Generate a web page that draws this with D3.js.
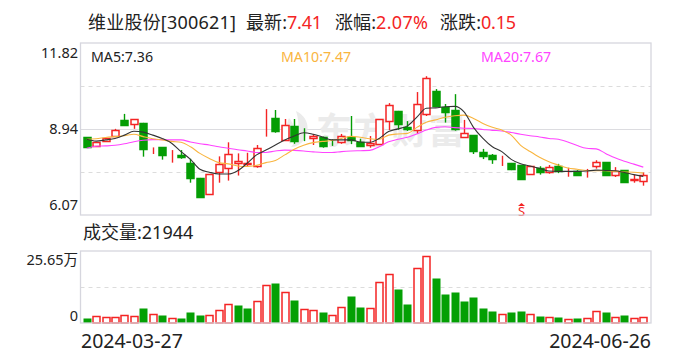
<!DOCTYPE html>
<html>
<head>
<meta charset="utf-8">
<script src="https://cdn.jsdelivr.net/npm/d3@7"></script>
<style>
  html, body { margin: 0; padding: 0; background: #fff; }
  svg { display: block; }
  text { font-family: "Noto Sans", "Noto Sans CJK SC", sans-serif; }
</style>
</head>
<body>
<div id="root"></div>
<script>
// Daily bars
const opens = [8.67,8.37,8.57,8.70,9.25,9.10,9.15,8.29,8.33,8.11,8.08,7.81,7.31,6.76,7.49,7.63,7.79,7.75,7.69,9.03,
  9.31,8.58,9.05,8.64,8.63,8.69,8.56,8.50,8.67,8.51,8.40,8.43,9.20,9.55,9.01,8.90,9.42,10.22,9.69,9.58,
  8.66,8.74,8.18,8.08,7.94,7.81,7.74,7.43,7.65,7.52,7.70,7.51,7.54,7.51,7.69,7.84,7.43,7.56,7.21,7.22]
const closes = [8.35,8.50,8.66,8.90,9.08,9.27,8.29,8.30,8.05,8.12,8.02,7.32,6.68,7.43,7.76,8.10,7.86,7.80,8.30,9.04,
  8.86,9.07,8.56,8.63,8.70,8.39,8.55,8.70,8.56,8.39,8.47,9.27,9.74,9.12,8.93,9.77,10.64,9.73,9.51,8.96,
  8.81,8.19,8.05,7.95,7.95,7.61,7.28,7.70,7.52,7.69,7.52,7.52,7.42,7.52,7.83,7.42,7.55,7.17,7.26,7.41]
const highs = [8.67,8.50,8.66,8.95,9.45,9.27,9.15,8.33,8.33,8.24,8.24,7.95,7.31,7.43,8.03,8.50,8.13,8.15,8.41,9.61,
  9.58,9.28,9.28,8.97,8.77,8.69,8.60,8.78,9.38,8.62,8.71,9.27,9.81,9.55,9.21,10.18,10.71,10.28,9.78,10.11,
  9.25,8.74,8.28,8.11,8.05,7.81,7.74,7.70,7.70,7.74,7.78,7.65,7.57,7.61,7.90,7.84,7.67,7.56,7.41,7.49]
const lows = [8.35,8.37,8.52,8.70,9.05,8.95,8.02,8.11,7.92,7.82,7.95,7.15,6.65,6.76,7.15,7.22,7.39,7.71,7.65,8.69,
  8.82,8.58,8.45,8.54,8.41,8.32,8.38,8.45,8.44,8.37,8.32,8.43,8.91,8.92,8.88,8.78,9.38,9.69,9.16,8.89,
  8.66,8.11,7.94,7.78,7.71,7.57,7.28,7.43,7.42,7.45,7.47,7.35,7.42,7.32,7.62,7.42,7.34,7.14,7.15,7.05]

const ma5 = [8.60,8.54,8.58,8.63,8.74,8.87,8.84,8.74,8.63,8.47,8.19,7.93,7.60,7.50,7.44,7.44,7.55,7.80,8.08,8.24,
  8.41,8.58,8.71,8.82,8.77,8.68,8.58,8.58,8.58,8.51,8.50,8.63,8.86,8.95,9.05,9.34,9.64,9.65,9.69,9.70,
  9.52,9.00,8.63,8.35,8.19,7.93,7.78,7.71,7.63,7.54,7.53,7.53,7.53,7.54,7.57,7.56,7.55,7.49,7.42,7.36]
const ma10 = [8.60,8.62,8.66,8.69,8.72,8.77,8.69,8.62,8.58,8.53,8.50,8.35,8.13,7.96,7.82,7.78,7.71,7.69,7.73,7.82,
  7.89,8.08,8.27,8.40,8.49,8.53,8.56,8.63,8.70,8.67,8.62,8.60,8.74,8.78,8.80,9.00,9.17,9.25,9.34,9.39,
  9.41,9.30,9.13,9.00,8.91,8.74,8.40,8.19,8.00,7.85,7.74,7.64,7.60,7.56,7.55,7.55,7.53,7.51,7.50,7.47]
const ma20 = [8.30,8.37,8.38,8.40,8.45,8.52,8.57,8.59,8.59,8.58,8.58,8.51,8.45,8.41,8.35,8.30,8.25,8.21,8.16,8.16,
  8.21,8.24,8.23,8.21,8.18,8.16,8.16,8.19,8.21,8.22,8.23,8.35,8.52,8.60,8.67,8.78,8.91,9.00,9.02,8.99,
  8.97,8.96,8.93,8.90,8.88,8.83,8.77,8.72,8.68,8.63,8.60,8.51,8.39,8.30,8.28,8.13,7.98,7.87,7.77,7.67]

// Volume in 万 shares, and whether its bar is drawn as an up bar
const volumes = [1.90,2.38,2.02,2.02,2.73,2.49,5.35,3.09,2.85,1.66,1.90,3.92,2.85,2.73,4.51,6.65,6.42,5.35,7.72,13.42,
  14.26,10.93,8.20,4.87,4.51,3.92,2.73,5.58,9.62,5.70,5.23,14.49,17.34,12.12,6.77,19.48,23.76,16.04,10.34,11.05,
  7.84,9.27,5.35,4.28,3.09,3.92,4.28,3.09,2.49,2.02,2.14,1.31,1.78,1.66,4.16,3.92,2.02,2.85,1.66,2.19]
const volumeUp = [0,1,1,1,1,1,0,1,0,1,0,0,0,1,1,1,0,0,1,1,
  0,1,0,1,1,0,1,1,0,0,1,1,1,0,0,1,1,0,0,0,
  0,0,0,0,1,0,0,1,0,1,0,1,0,1,1,0,1,0,1,1]

const priceTicks = [11.82, 8.94, 6.07]
const priceGrid = [10.38, 7.51]
const sellSignal = [46]
const dates = ['2024-03-27', '2024-06-26']

const width = 688
const height = 360
const red = '#f42424'
const green = '#049d04'
const box = { left: 80.5, right: 651, top: 43, bottom: 215, volTop: 251, volBottom: 323 }

const svg = d3.select('#root').append('svg')
  .attr('width', width)
  .attr('height', height)
  .attr('viewBox', `0 0 ${width} ${height}`)

const x = d3.scaleBand().domain(d3.range(closes.length)).range([82, 648])
const cx = i => Math.round(x(i) + x.bandwidth() / 2)
const y = d3.scaleLinear().domain([6.07, 11.82]).range([box.bottom, box.top])
const yVol = d3.scaleLinear().domain([0, 25.65]).range([box.volBottom, box.volTop])

// Grid
svg.append('line').attr('x1', box.left).attr('x2', box.right)
  .attr('y1', Math.round(y(8.94)) + 0.5).attr('y2', Math.round(y(8.94)) + 0.5)
  .attr('stroke', '#dcdce0')
svg.append('g').selectAll('line')
  .data(priceGrid)
  .enter()
  .append('line')
  .attr('x1', box.left).attr('x2', box.right)
  .attr('y1', d => Math.round(y(d)) + 0.5).attr('y2', d => Math.round(y(d)) + 0.5)
  .attr('stroke', '#dcdcdc').attr('stroke-dasharray', '4,4')
svg.append('line').attr('x1', box.left).attr('x2', box.right)
  .attr('y1', 287.5).attr('y2', 287.5)
  .attr('stroke', '#dcdcdc').attr('stroke-dasharray', '4,4')

// Watermark
const mark = svg.append('g').attr('fill', '#ebebeb')
mark.append('text').attr('x', 316).attr('y', 144)
  .attr('font-size', 36).attr('font-weight', 700).attr('letter-spacing', 1.5)
  .style('font-family', '"Noto Sans CJK SC"')
  .text('东方财富')
mark.append('path').attr('d', 'M296 111C306 116 311 126 305 138C302 144 296 147 291 147C298 140 301 126 296 111Z')
mark.append('path').attr('d', 'M289 118C295 124 296 134 290 144C286 138 285 126 289 118Z')

// Candles
const candles = svg.append('g').selectAll('g')
  .data(closes)
  .enter()
  .append('g')
  .attr('stroke', (d, i) => d >= opens[i] ? red : green)
candles.append('line')
  .attr('x1', (d, i) => cx(i) + 0.5).attr('x2', (d, i) => cx(i) + 0.5)
  .attr('y1', (d, i) => y(highs[i])).attr('y2', (d, i) => y(lows[i]))
  .attr('stroke-width', 1.4)
candles.append('rect')
  .attr('x', (d, i) => cx(i) - 3)
  .attr('width', 7)
  .attr('y', (d, i) => Math.round(y(Math.max(d, opens[i]))) + 0.5)
  .attr('height', (d, i) => Math.round(Math.abs(y(d) - y(opens[i]))))
  .attr('fill', (d, i) => d >= opens[i] ? '#fff' : green)
  .attr('stroke-width', 1.5)

// Moving averages
const line = d3.line()
  .x((d, i) => x(i) + x.bandwidth() / 2)
  .y(d => y(d))
  .curve(d3.curveMonotoneX)
const maLines = [[ma20, '#ff44ff'], [ma10, '#f9b53f'], [ma5, '#333333']]
svg.append('g').selectAll('path')
  .data(maLines)
  .enter()
  .append('path')
  .attr('d', d => line(d[0]))
  .attr('fill', 'none')
  .attr('stroke', d => d[1])
  .attr('stroke-width', 1.1)

// Sell marker
const signal = svg.append('g').selectAll('g')
  .data(sellSignal)
  .enter()
  .append('g')
  .attr('transform', d => `translate(${cx(d) + 0.5},0)`)
  .attr('fill', red)
signal.append('path').attr('d', 'M-3.5 206L0 203L3.5 206Z')
signal.append('text').attr('y', 215.5).attr('text-anchor', 'middle')
  .attr('font-size', 13).text('S')

// Volume
svg.append('g').selectAll('rect')
  .data(volumes)
  .enter()
  .append('rect')
  .attr('x', (d, i) => cx(i) - 3 - (volumeUp[i] ? 0 : 0.5))
  .attr('width', (d, i) => volumeUp[i] ? 7 : 8)
  .attr('y', d => Math.round(yVol(d)) + 0.5)
  .attr('height', d => yVol(0) - Math.round(yVol(d)) - 0.5)
  .attr('fill', (d, i) => volumeUp[i] ? '#fff' : '#04a004')
  .attr('stroke', (d, i) => volumeUp[i] ? red : 'none')
  .attr('stroke-width', 1.5)

// Frames
const frames = [[box.top, box.bottom], [box.volTop, box.volBottom]]
svg.append('g').selectAll('rect')
  .data(frames)
  .enter()
  .append('rect')
  .attr('x', box.left).attr('width', box.right - box.left)
  .attr('y', d => d[0]).attr('height', d => d[1] - d[0])
  .attr('fill', 'none').attr('stroke', '#d6d6de').attr('stroke-width', 1.3)

// Axis labels
svg.append('g').selectAll('text')
  .data(priceTicks)
  .enter()
  .append('text')
  .attr('x', 78)
  .attr('y', (d, i) => y(d) + [15, 5, -5][i])
  .attr('text-anchor', 'end').attr('font-size', 14.5).attr('fill', '#222')
  .text(d => d.toFixed(2))
svg.append('text').attr('x', 78).attr('y', 265).attr('text-anchor', 'end')
  .attr('font-size', 14.5).attr('fill', '#222').text('25.65万')
svg.append('text').attr('x', 78).attr('y', 321).attr('text-anchor', 'end')
  .attr('font-size', 14.5).attr('fill', '#222').text('0')
svg.append('text').attr('x', 81).attr('y', 348).attr('font-size', 19.5).attr('fill', '#222').text(dates[0])
svg.append('text').attr('x', 651).attr('y', 348).attr('text-anchor', 'end')
  .attr('font-size', 19.5).attr('fill', '#222').text(dates[1])
svg.append('text').attr('x', 83).attr('y', 239).attr('font-size', 18).attr('fill', '#222').text('成交量:21944')

// Title and MA legend
const titleParts = [
  ['维业股份[300621]', 88, '#222', 148], ['最新:', 246, '#222', 41], ['7.41', 287, red, 35],
  ['涨幅:', 335, '#222', 41], ['2.07%', 376, red, 52], ['涨跌:', 440, '#222', 41], ['0.15', 481, red, 35]
]
svg.append('g').selectAll('text')
  .data(titleParts)
  .enter()
  .append('text')
  .attr('x', d => d[1]).attr('y', 29)
  .attr('font-size', 18).attr('fill', d => d[2])
  .attr('textLength', d => d[3])
  .text(d => d[0])
const legend = [['MA5:7.36', 91, '#222'], ['MA10:7.47', 281, '#f9b53f'], ['MA20:7.67', 481, '#ff44ff']]
svg.append('g').selectAll('text')
  .data(legend)
  .enter()
  .append('text')
  .attr('x', d => d[1]).attr('y', 62)
  .attr('font-size', 14.2).attr('fill', d => d[2])
  .text(d => d[0])
</script>
</body>
</html>
